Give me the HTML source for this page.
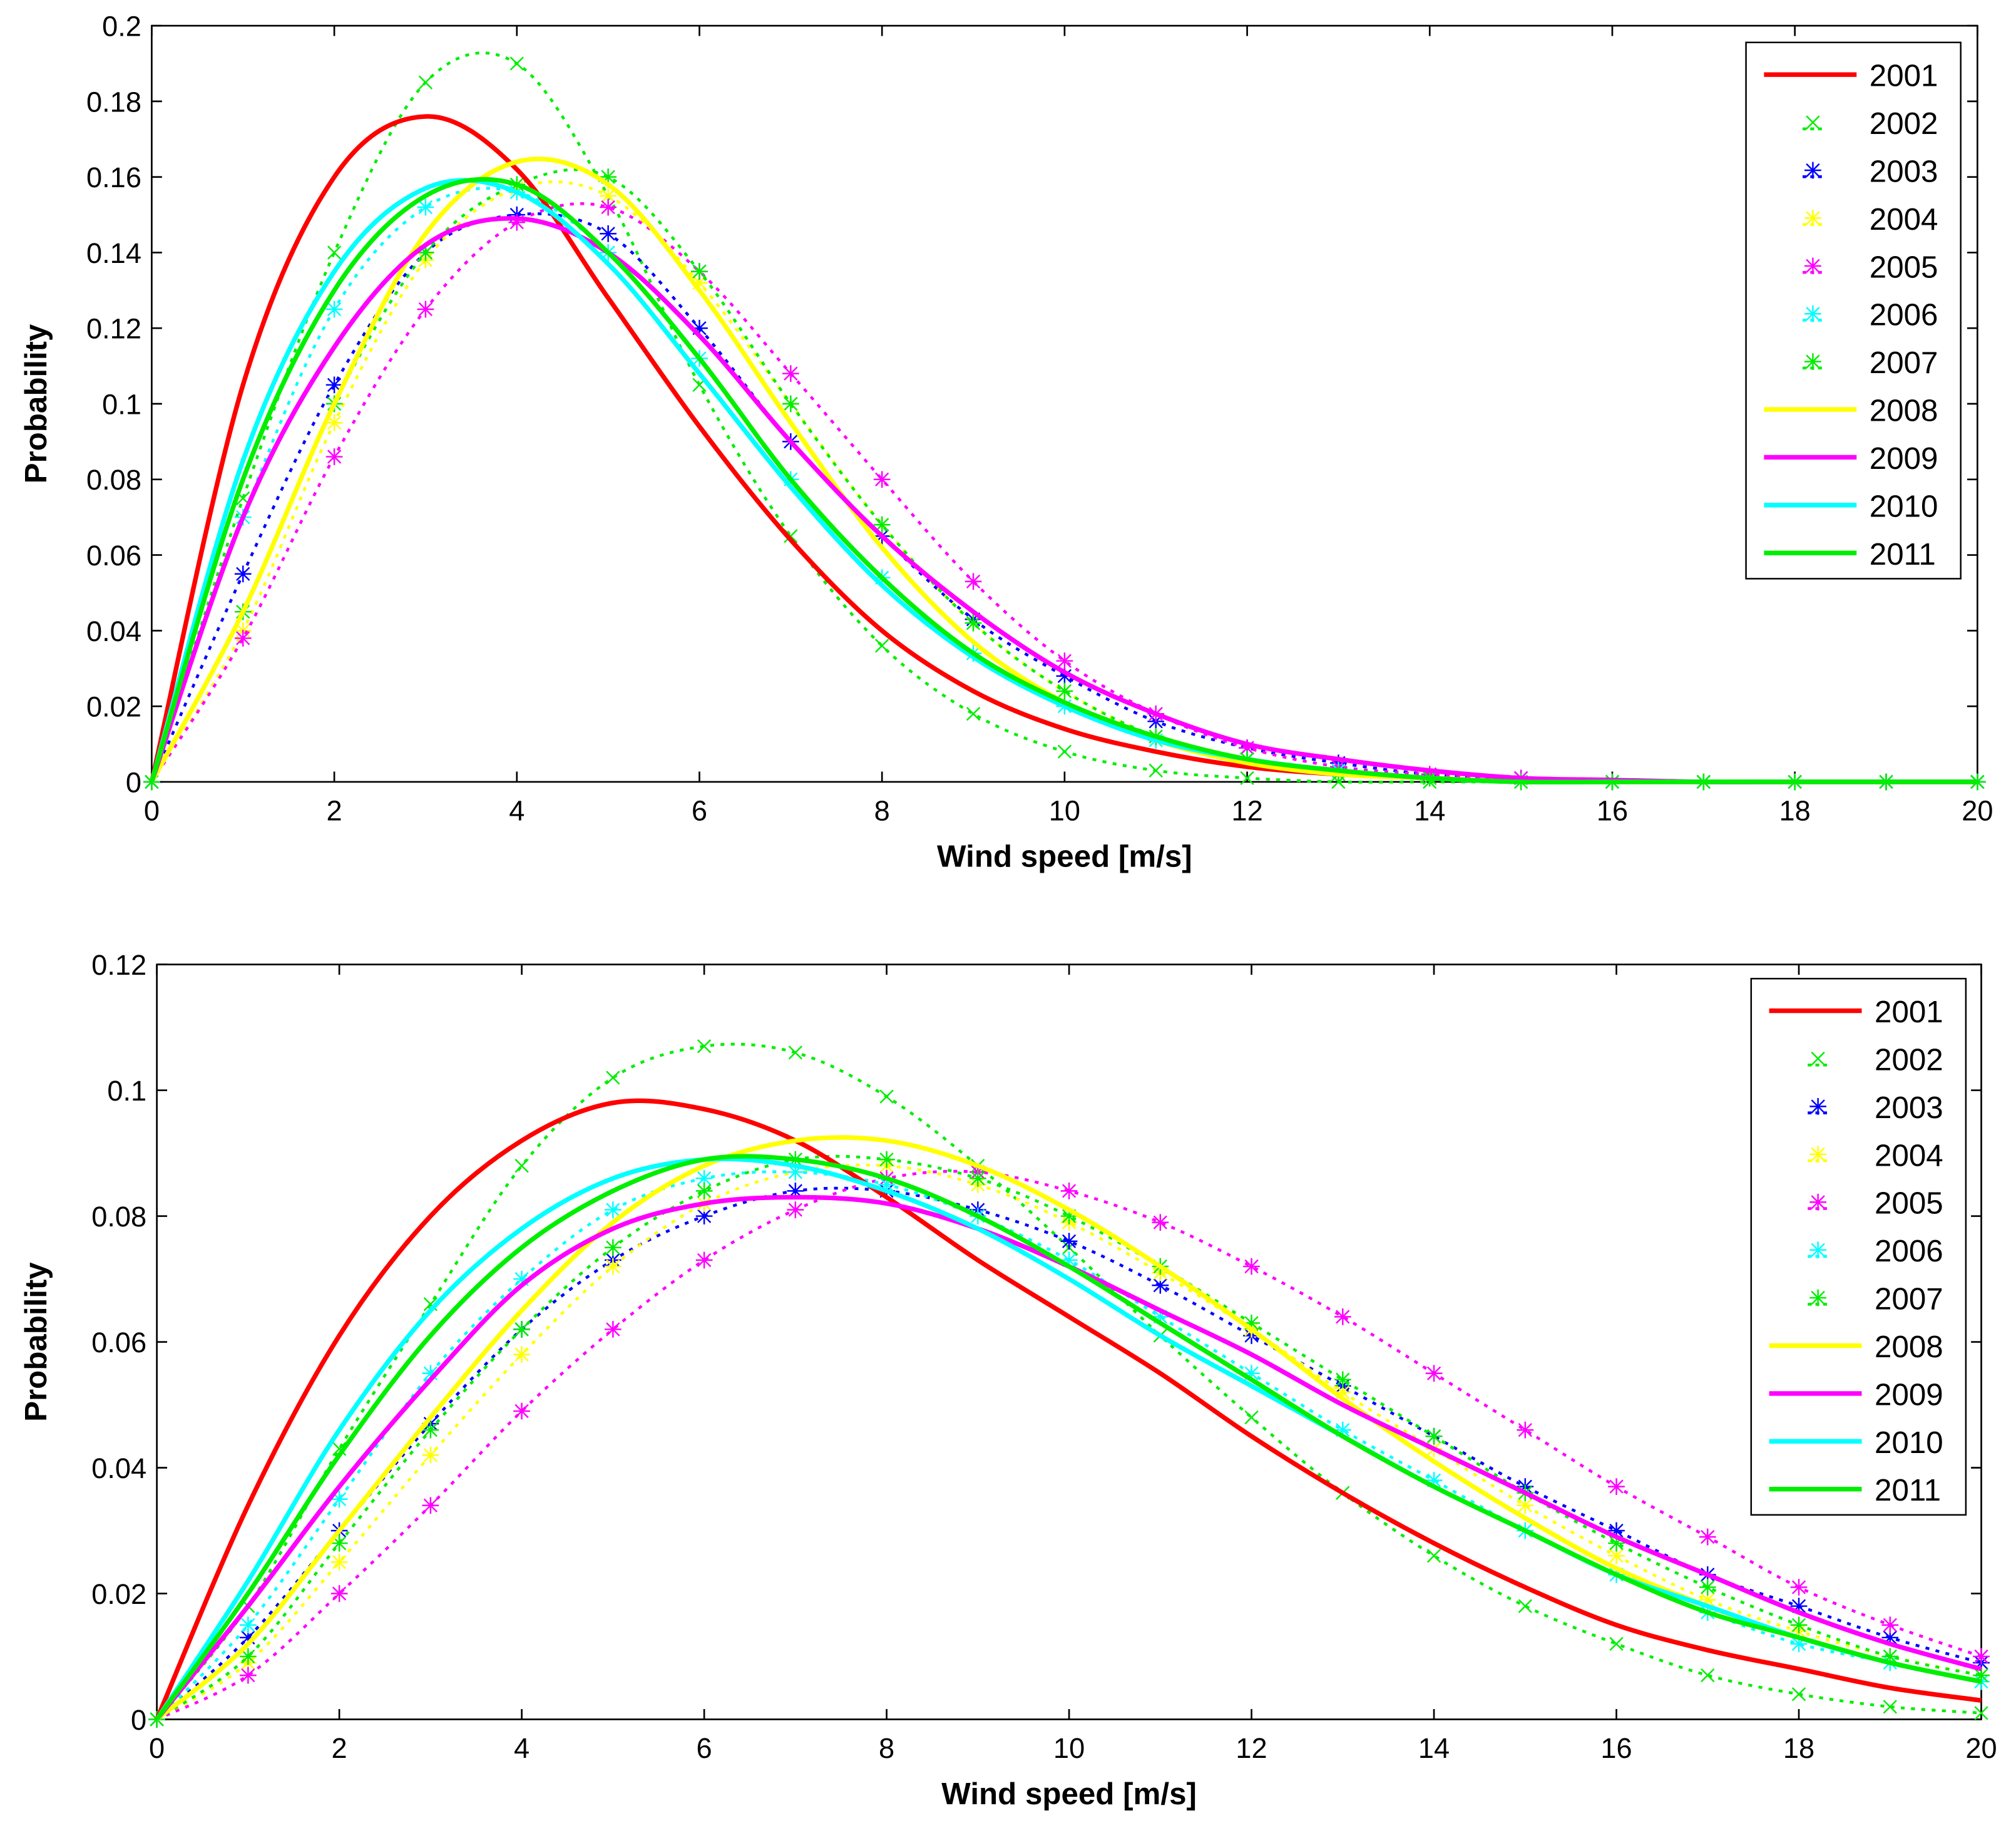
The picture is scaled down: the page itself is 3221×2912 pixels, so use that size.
<!DOCTYPE html>
<html><head><meta charset="utf-8">
<style>
html,body{margin:0;padding:0;background:#fff}
svg{display:block}
text{font-family:"Liberation Sans",Arial,sans-serif}
</style></head>
<body>
<svg id="chart" width="3221" height="2912" viewBox="0 0 1568 1417.6" preserveAspectRatio="none" xmlns="http://www.w3.org/2000/svg">
<rect x="0" y="0" width="1568" height="1418" fill="#fff"/>
</svg>
<script>
const years = ["2001","2002","2003","2004","2005","2006","2007","2008","2009","2010","2011"];
const colors = ["#ff0000","#00ee00","#0000ff","#ffff00","#ff00ff","#00ffff","#00ee00","#ffff00","#ff00ff","#00ffff","#00ee00"];
const styles = ["solid","x","star","star","star","star","star","solid","solid","solid","solid"];
const windX = [0,1,2,3,4,5,6,7,8,9,10,11,12,13,14,15,16,17,18,19,20];
const xTicks = [0,2,4,6,8,10,12,14,16,18,20];
const yTicksTop = [0,0.02,0.04,0.06,0.08,0.1,0.12,0.14,0.16,0.18,0.2];
const yTickLabelsTop = ["0","0.02","0.04","0.06","0.08","0.1","0.12","0.14","0.16","0.18","0.2"];
const yTicksBot = [0,0.02,0.04,0.06,0.08,0.1,0.12];
const yTickLabelsBot = ["0","0.02","0.04","0.06","0.08","0.1","0.12"];

const top2001 = [0,0.105,0.16,0.176,0.162,0.128,0.094,0.064,0.04,0.024,0.014,0.008,0.004,0.002,0.001,0,0,0,0,0,0];
const top2002 = [0,0.075,0.14,0.185,0.19,0.155,0.105,0.065,0.036,0.018,0.008,0.003,0.001,0,0,0,0,0,0,0,0];
const top2003 = [0,0.055,0.105,0.14,0.15,0.145,0.12,0.09,0.065,0.043,0.028,0.016,0.009,0.005,0.002,0.001,0,0,0,0,0];
const top2004 = [0,0.04,0.095,0.138,0.157,0.155,0.132,0.1,0.068,0.042,0.024,0.012,0.006,0.003,0.001,0,0,0,0,0,0];
const top2005 = [0,0.038,0.086,0.125,0.148,0.152,0.135,0.108,0.08,0.053,0.032,0.018,0.009,0.004,0.002,0.001,0,0,0,0,0];
const top2006 = [0,0.07,0.125,0.152,0.156,0.14,0.112,0.08,0.054,0.034,0.02,0.011,0.006,0.003,0.001,0,0,0,0,0,0];
const top2007 = [0,0.045,0.1,0.14,0.158,0.16,0.135,0.1,0.068,0.042,0.024,0.012,0.006,0.002,0.001,0,0,0,0,0,0];
const top2008 = [0,0.045,0.1,0.145,0.164,0.158,0.13,0.095,0.062,0.037,0.021,0.011,0.005,0.002,0.001,0,0,0,0,0,0];
const top2009 = [0,0.07,0.115,0.142,0.149,0.14,0.118,0.09,0.065,0.045,0.029,0.018,0.01,0.006,0.003,0.001,0.0005,0,0,0,0];
const top2010 = [0,0.085,0.135,0.157,0.156,0.137,0.108,0.078,0.052,0.033,0.02,0.011,0.006,0.003,0.001,0,0,0,0,0,0];
const top2011 = [0,0.08,0.13,0.155,0.158,0.14,0.112,0.08,0.054,0.034,0.021,0.012,0.006,0.003,0.001,0,0,0,0,0,0];

const bot2001 = [0,0.034,0.061,0.08,0.092,0.098,0.097,0.092,0.083,0.073,0.064,0.055,0.045,0.036,0.028,0.021,0.015,0.011,0.008,0.005,0.003];
const bot2002 = [0,0.018,0.043,0.066,0.088,0.102,0.107,0.106,0.099,0.088,0.075,0.061,0.048,0.036,0.026,0.018,0.012,0.007,0.004,0.002,0.001];
const bot2003 = [0,0.013,0.03,0.047,0.062,0.073,0.08,0.084,0.084,0.081,0.076,0.069,0.061,0.053,0.045,0.037,0.03,0.023,0.018,0.013,0.009];
const bot2004 = [0,0.009,0.025,0.042,0.058,0.072,0.082,0.087,0.088,0.085,0.079,0.071,0.062,0.052,0.043,0.034,0.026,0.019,0.014,0.01,0.007];
const bot2005 = [0,0.007,0.02,0.034,0.049,0.062,0.073,0.081,0.086,0.087,0.084,0.079,0.072,0.064,0.055,0.046,0.037,0.029,0.021,0.015,0.01];
const bot2006 = [0,0.015,0.035,0.055,0.07,0.081,0.086,0.087,0.085,0.08,0.073,0.064,0.055,0.046,0.038,0.03,0.023,0.017,0.012,0.009,0.006];
const bot2007 = [0,0.01,0.028,0.046,0.062,0.075,0.084,0.089,0.089,0.086,0.08,0.072,0.063,0.054,0.045,0.036,0.028,0.021,0.015,0.01,0.007];
const bot2008 = [0,0.012,0.03,0.048,0.065,0.079,0.088,0.092,0.092,0.088,0.081,0.072,0.062,0.051,0.041,0.032,0.024,0.018,0.013,0.009,0.006];
const bot2009 = [0,0.018,0.037,0.054,0.069,0.078,0.082,0.083,0.082,0.078,0.072,0.065,0.058,0.05,0.043,0.036,0.029,0.023,0.017,0.012,0.008];
const bot2010 = [0,0.022,0.046,0.065,0.078,0.086,0.089,0.088,0.084,0.078,0.07,0.061,0.053,0.045,0.037,0.03,0.023,0.018,0.013,0.009,0.006];
const bot2011 = [0,0.02,0.042,0.061,0.075,0.084,0.089,0.089,0.086,0.08,0.072,0.063,0.054,0.045,0.037,0.03,0.023,0.017,0.013,0.009,0.006];

const topSeries = [top2001,top2002,top2003,top2004,top2005,top2006,top2007,top2008,top2009,top2010,top2011];
const botSeries = [bot2001,bot2002,bot2003,bot2004,bot2005,bot2006,bot2007,bot2008,bot2009,bot2010,bot2011];

const NS = "http://www.w3.org/2000/svg";
const svg = document.getElementById("chart");
function mk(tag, attrs, parent){
  const e = document.createElementNS(NS, tag);
  for (const k in attrs) e.setAttribute(k, attrs[k]);
  (parent||svg).appendChild(e);
  return e;
}
function smooth(pts){
  let d = "M"+pts[0][0]+","+pts[0][1];
  for (let i=0;i<pts.length-1;i++){
    const p0=pts[Math.max(0,i-1)],p1=pts[i],p2=pts[i+1],p3=pts[Math.min(pts.length-1,i+2)];
    const c1x=p1[0]+(p2[0]-p0[0])/6, c1y=p1[1]+(p2[1]-p0[1])/6;
    const c2x=p2[0]-(p3[0]-p1[0])/6, c2y=p2[1]-(p3[1]-p1[1])/6;
    d+=" C"+c1x.toFixed(2)+","+c1y.toFixed(2)+" "+c2x.toFixed(2)+","+c2y.toFixed(2)+" "+p2[0].toFixed(2)+","+p2[1].toFixed(2);
  }
  return d;
}
function marker(g, x, y, color, type){
  const s=5;
  let d = "M"+(x-s)+","+(y-s)+"L"+(x+s)+","+(y+s)+"M"+(x-s)+","+(y+s)+"L"+(x+s)+","+(y-s);
  if (type==="star") d += "M"+x+","+(y-s*1.3)+"L"+x+","+(y+s*1.3)+"M"+(x-s*1.3)+","+y+"L"+(x+s*1.3)+","+y;
  const m = mk("path",{d:d,stroke:color,"stroke-width":1.2,fill:"none"},g);
  
  
}

function drawPlot(cfg){
  const L=cfg.left,R=cfg.right,T=cfg.top,B=cfg.bottom;
  const xs = v => L + (v-0)/(20-0)*(R-L);
  const ys = v => B - v/cfg.ymax*(B-T);
  const g = mk("g",{});
  
  
  const frame = mk("rect",{x:L,y:T,width:R-L,height:B-T,fill:"#fff",stroke:"#000","stroke-width":1.3},g);
  
  
  xTicks.forEach(v=>{
    const x=xs(v);
    const t1=mk("line",{x1:x,y1:B,x2:x,y2:B-8,stroke:"#000","stroke-width":1.3},g);
    
    
    const t2=mk("line",{x1:x,y1:T,x2:x,y2:T+8,stroke:"#000","stroke-width":1.3},g);
    
    
    const lb=mk("text",{x:x,y:B+30,"font-size":22,"text-anchor":"middle",fill:"#000"},g);
    lb.textContent=String(v);
    
    
  });
  cfg.yt.forEach((v,i)=>{
    const y=ys(v);
    const t1=mk("line",{x1:L,y1:y,x2:L+8,y2:y,stroke:"#000","stroke-width":1.3},g);
    
    
    const t2=mk("line",{x1:R,y1:y,x2:R-8,y2:y,stroke:"#000","stroke-width":1.3},g);
    
    
    const lb=mk("text",{x:L-8,y:y+8,"font-size":22,"text-anchor":"end",fill:"#000"},g);
    lb.textContent=cfg.ytl[i];
    
    
  });
  const xl=mk("text",{x:(L+R)/2,y:B+66,"font-size":24,"font-weight":"bold","text-anchor":"middle",fill:"#000"},g);
  xl.textContent="Wind speed [m/s]";
  
  
  const yl=mk("text",{x:0,y:0,"font-size":24,"font-weight":"bold","text-anchor":"middle",fill:"#000",transform:"translate(36,"+((T+B)/2)+") rotate(-90)"},g);
  yl.textContent="Probability";
  
  

  const order=[1,2,3,4,5,6,0,7,8,9,10];
  order.forEach(si=>{
    const data=cfg.series[si];
    const pts=windX.map((xv,i)=>[xs(xv),ys(data[i])]);
    const sg=mk("g",{},g);
    
    
    if (styles[si]==="solid"){
      const p=mk("path",{d:smooth(pts),stroke:colors[si],"stroke-width":3.6,fill:"none","stroke-linejoin":"round"},sg);
      
      
    } else {
      const p=mk("path",{d:smooth(pts),stroke:colors[si],"stroke-width":2.2,fill:"none","stroke-dasharray":"3 5"},sg);
      
      
      pts.forEach(pt=>marker(sg,pt[0],pt[1],colors[si],styles[si]));
    }
  });

  const lg=mk("g",{},g);
  
  
  const lb=mk("rect",{x:cfg.lx,y:cfg.ly,width:167,height:417,fill:"#fff",stroke:"#000","stroke-width":1.2},lg);
  
  
  years.forEach((yr,i)=>{
    const y=cfg.ly+25+i*37.2;
    const eg=mk("g",{},lg);
    
    
    if (styles[i]==="solid"){
      mk("line",{x1:cfg.lx+14,y1:y,x2:cfg.lx+86,y2:y,stroke:colors[i],"stroke-width":3.6},eg);
    } else {
      mk("line",{x1:cfg.lx+44,y1:y+5,x2:cfg.lx+60,y2:y+5,stroke:colors[i],"stroke-width":2.2,"stroke-dasharray":"3 3"},eg);
      marker(eg,cfg.lx+52,y,colors[i],styles[i]);
    }
    const t=mk("text",{x:cfg.lx+96,y:y+9,"font-size":24,fill:"#000"},eg);
    t.textContent=yr;
  });
}
drawPlot({name:"top-chart",left:118,right:1538,top:20,bottom:608,ymax:0.2,yt:yTicksTop,ytl:yTickLabelsTop,series:topSeries,lx:1358,ly:33});
drawPlot({name:"bottom-chart",left:122,right:1541,top:750,bottom:1337,ymax:0.12,yt:yTicksBot,ytl:yTickLabelsBot,series:botSeries,lx:1362,ly:761});
</script>
</body></html>
